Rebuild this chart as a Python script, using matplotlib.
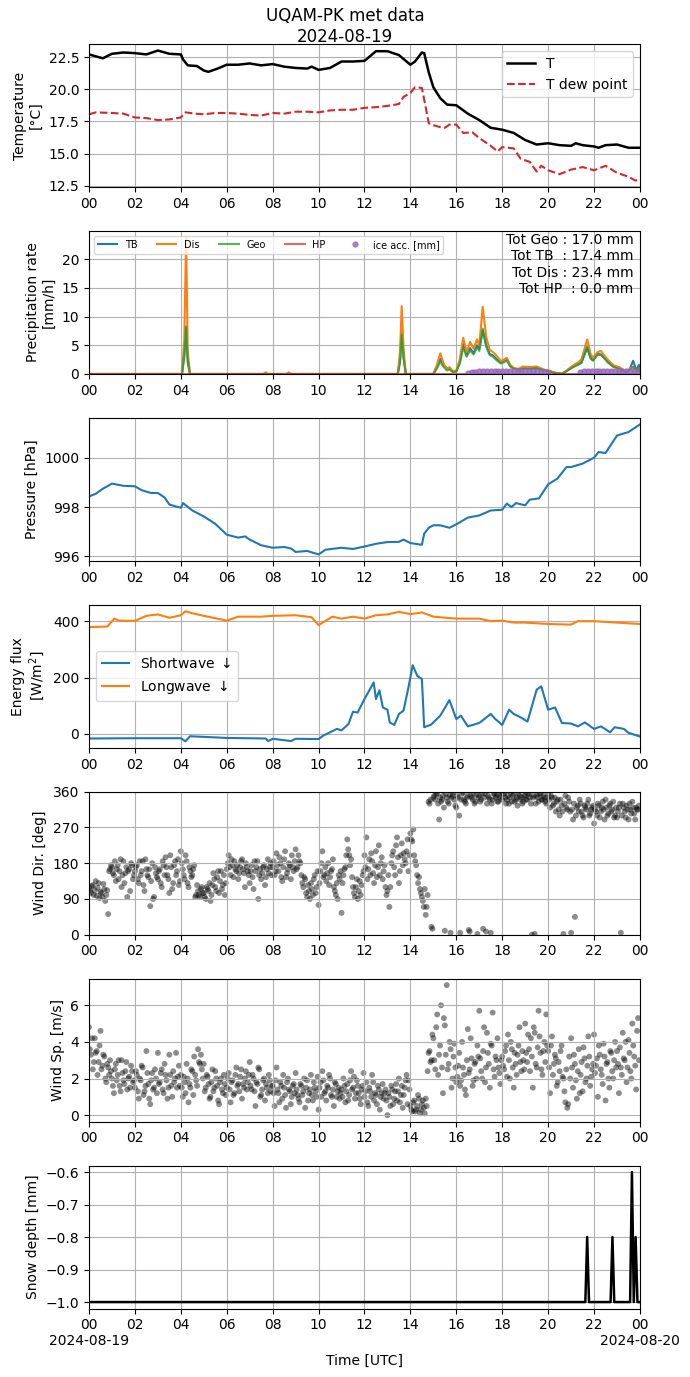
import numpy as np
import matplotlib
matplotlib.use('Agg')
import matplotlib.pyplot as plt

# ---------------- data (hours UTC on 2024-08-19) ----------------
T_hours = [0, 0.3, 0.6, 1.0, 1.5, 2.0, 2.5, 3.0, 3.5, 4.0, 4.1, 4.3, 4.7, 5.0, 5.2,
           5.6, 6.0, 6.5, 7.0, 7.5, 8.0, 8.5, 9.0, 9.5, 9.7, 10.0, 10.5, 11.0, 11.5, 12.0,
           12.5, 13.0, 13.5, 14.0, 14.2, 14.5, 14.6, 14.8, 15.0, 15.3, 15.6, 16.0, 16.5, 17.0, 17.5,
           18.0, 18.5, 19.0, 19.5, 20.0, 20.5, 21.0, 21.2, 21.5, 22.0, 22.2, 22.5, 23.0, 23.5, 24.0]
T_vals = [22.7, 22.55, 22.4, 22.75, 22.85, 22.8, 22.7, 23.0, 22.75, 22.7, 22.3, 21.85, 21.8, 21.45, 21.35,
          21.6, 21.9, 21.9, 22.0, 21.85, 21.95, 21.75, 21.65, 21.6, 21.75, 21.5, 21.65, 22.15, 22.15, 22.2,
          22.95, 22.95, 22.65, 21.9, 22.15, 22.85, 22.8, 21.3, 20.15, 19.3, 18.8, 18.75, 18.1, 17.6, 17.0,
          16.85, 16.6, 16.05, 15.7, 15.8, 15.65, 15.6, 15.8, 15.65, 15.55, 15.45, 15.65, 15.7, 15.45, 15.45]

Td_hours = [0, 0.3, 1.0, 1.5, 2.0, 2.5, 3.0, 3.5, 4.0, 4.2, 4.6, 5.0, 5.5, 6.0, 6.5,
            7.0, 7.5, 8.0, 8.5, 9.0, 9.5, 10.0, 10.5, 11.0, 11.5, 12.0, 12.5, 13.0, 13.5, 13.7,
            14.0, 14.2, 14.5, 14.6, 14.8, 15.0, 15.3, 15.5, 15.7, 16.0, 16.3, 16.7, 17.0, 17.5, 17.8,
            18.0, 18.5, 18.8, 19.2, 19.5, 19.7, 20.0, 20.5, 21.0, 21.5, 22.0, 22.5, 23.0, 23.5, 23.8, 24.0]
Td_vals = [18.05, 18.2, 18.15, 18.1, 17.8, 17.75, 17.6, 17.65, 17.8, 18.2, 18.1, 18.05, 18.15, 18.15, 18.1,
           18.0, 17.95, 18.15, 18.1, 18.25, 18.25, 18.2, 18.35, 18.4, 18.4, 18.55, 18.6, 18.7, 18.85, 19.4,
           19.7, 20.15, 20.1, 19.2, 17.35, 17.2, 17.05, 17.0, 17.25, 17.25, 16.6, 16.65, 16.2, 15.6, 15.15,
           15.5, 15.4, 14.6, 14.35, 13.6, 14.05, 13.7, 13.4, 13.75, 13.95, 13.7, 14.05, 13.5, 13.2, 12.9, 13.0]

pr_hours = [0, 4.05, 4.15, 4.23, 4.3, 4.4,
            7.6, 7.7, 7.8, 8.6, 8.7, 8.8,
            13.45, 13.55, 13.62, 13.7, 13.8,
            15.0, 15.15, 15.3, 15.45, 15.6, 15.7, 15.85, 16.0, 16.15, 16.3, 16.45, 16.6, 16.75, 16.9,
            17.0, 17.15, 17.3, 17.45, 17.6, 17.75, 17.95, 18.2, 18.35, 18.5, 18.7, 18.9, 19.2, 19.5,
            19.8, 20.1, 20.4, 20.6, 20.8, 21.05, 21.3, 21.45, 21.7, 21.85, 21.95, 22.15, 22.3, 22.45,
            22.6, 22.85, 23.1, 23.4, 23.55, 23.7, 23.85, 23.95, 24.0]
pr_tb = [0, 0, 3.0, 8.3, 2.0, 0,
         0, 0, 0, 0, 0, 0,
         0, 2.5, 8.0, 3.0, 0,
         0, 1.2, 2.6, 1.5, 1.0, 1.0, 0.4, 0.5, 2.0, 5.2, 3.2, 4.5, 3.6, 5.0,
         4.3, 7.6, 5.0, 3.5, 3.2, 2.6, 2.0, 2.6, 1.4, 1.0, 0.8, 1.0, 1.0, 1.0,
         0.7, 0.4, 0.1, 0.05, 0.5, 1.2, 1.7, 2.0, 4.5, 2.8, 2.4, 3.5, 3.4, 2.8,
         2.1, 1.3, 1.0, 0.3, 0.8, 2.3, 0.6, 1.6, 0.3]
pr_dis = [0, 0, 6.0, 23.7, 4.0, 0,
          0, 0.3, 0, 0, 0.3, 0,
          0, 4.0, 11.8, 4.5, 0,
          0, 1.5, 3.6, 1.8, 0.8, 1.2, 0.5, 0.6, 2.5, 6.3, 3.8, 5.6, 4.4, 6.0,
          5.0, 11.7, 6.5, 4.2, 3.8, 3.2, 2.2, 2.8, 1.6, 1.0, 0.9, 1.3, 1.2, 1.3,
          0.8, 0.5, 0.1, 0.05, 0.6, 1.4, 2.0, 2.5, 6.0, 3.5, 2.8, 3.8, 4.0, 3.2,
          2.5, 1.5, 1.2, 0.4, 0.9, 1.3, 0.5, 1.0, 0.2]
pr_geo = [0, 0, 3.5, 8.1, 2.5, 0,
          0, 0, 0, 0, 0, 0,
          0, 2.0, 6.8, 2.8, 0,
          0, 0.9, 2.1, 1.2, 0.6, 0.8, 0.3, 0.4, 1.8, 4.6, 3.0, 4.1, 3.4, 4.6,
          4.0, 7.9, 4.8, 3.3, 3.0, 2.4, 1.8, 2.3, 1.3, 0.9, 0.8, 0.9, 0.9, 1.0,
          0.7, 0.4, 0.1, 0.05, 0.5, 1.1, 1.6, 1.9, 4.8, 2.7, 2.3, 3.3, 3.3, 2.7,
          2.0, 1.2, 0.9, 0.3, 0.7, 1.2, 0.5, 1.0, 0.2]
pr_hp_hours = [0, 24]
pr_hp = [0, 0]

ice_hours = [16.5, 16.67, 16.83, 17.0, 17.17, 17.33, 17.5, 17.67, 17.83, 18.0, 18.17,
             18.33, 18.5, 18.67, 18.83, 19.0, 19.17, 19.33, 19.5, 19.67, 19.83, 20.0,
             21.4, 21.57, 21.73, 21.9, 22.07, 22.23, 22.4, 22.57, 22.73, 22.9, 23.07,
             23.23, 23.4, 23.57, 23.73, 23.85]
ice_vals = [0.2, 0.3, 0.4, 0.45, 0.5, 0.5, 0.5, 0.5, 0.55, 0.5, 0.5,
            0.5, 0.5, 0.5, 0.5, 0.5, 0.45, 0.45, 0.45, 0.4, 0.35, 0.3,
            0.3, 0.45, 0.5, 0.55, 0.55, 0.55, 0.6, 0.6, 0.6, 0.6, 0.6,
            0.55, 0.55, 0.55, 0.5, 0.4]
totals_text = "Tot Geo : 17.0 mm\nTot TB  : 17.4 mm\nTot Dis : 23.4 mm\nTot HP  : 0.0 mm"

P_hours = [0, 0.3, 0.6, 1.0, 1.5, 2.0, 2.3, 2.7, 3.0, 3.3, 3.5, 4.0, 4.1, 4.5, 5.0,
           5.5, 6.0, 6.5, 6.8, 7.0, 7.5, 8.0, 8.5, 8.8, 9.0, 9.5, 10.0, 10.3, 11.0, 11.5,
           12.0, 12.5, 13.0, 13.5, 13.7, 14.0, 14.5, 14.6, 14.8, 15.0, 15.3, 15.7, 16.0, 16.5, 17.0,
           17.5, 18.0, 18.2, 18.4, 18.6, 19.0, 19.2, 19.6, 20.0, 20.4, 20.8, 21.0, 21.5, 22.0, 22.2,
           22.5, 23.0, 23.5, 24.0]
P_vals = [998.43, 998.54, 998.74, 998.95, 998.86, 998.84, 998.68, 998.57, 998.57, 998.38, 998.1, 997.97,
          998.16, 997.86, 997.62, 997.32, 996.88, 996.76, 996.81, 996.68, 996.45, 996.35, 996.38, 996.32,
          996.18, 996.22, 996.08, 996.27, 996.35, 996.3, 996.4, 996.51, 996.58, 996.59, 996.68, 996.54,
          996.47, 996.92, 997.16, 997.26, 997.26, 997.16, 997.3, 997.57, 997.66, 997.86, 997.89, 998.14,
          998.0, 998.16, 998.07, 998.3, 998.35, 998.92, 999.15, 999.62, 999.62, 999.76, 1000.0, 1000.23,
          1000.19, 1000.9, 1001.04, 1001.35]

SW_hours = [0, 2.0, 4.0, 4.2, 4.4, 6.0, 7.7, 7.8, 8.0, 8.8, 9.0, 10.0, 10.2, 10.5, 10.8,
            11.0, 11.3, 11.5, 11.7, 12.0, 12.2, 12.4, 12.5, 12.65, 12.8, 13.0, 13.1, 13.3, 13.5, 13.7,
            13.9, 14.1, 14.3, 14.5, 14.6, 14.9, 15.3, 15.7, 16.0, 16.2, 16.5, 17.0, 17.5, 17.7, 18.0,
            18.3, 18.5, 18.8, 19.1, 19.5, 19.7, 20.0, 20.3, 20.6, 21.0, 21.3, 21.6, 22.0, 22.3, 22.7,
            22.9, 23.3, 23.5, 24.0]
SW_vals = [-16, -15, -15, -26, -8, -14, -16, -25, -17, -25, -17, -18, -6, 6, 18,
           13, 35, 79, 76, 124, 153, 183, 124, 155, 94, 86, 41, 32, 71, 83,
           159, 244, 206, 195, 24, 33, 65, 120, 53, 65, 27, 39, 71, 53, 32,
           86, 71, 59, 44, 157, 169, 86, 94, 39, 37, 27, 41, 18, 27, 6,
           24, 18, 4, -9]
LW_hours = [0, 0.8, 1.1, 1.3, 2.0, 2.5, 3.0, 3.5, 4.0, 4.2, 4.5, 5.0, 6.0, 6.5, 7.5,
            8.0, 9.0, 9.7, 10.0, 10.3, 10.6, 11.0, 11.5, 12.0, 12.5, 13.0, 13.5, 14.0, 14.5, 15.0,
            16.0, 17.0, 17.5, 18.0, 18.5, 19.0, 20.0, 21.0, 21.3, 22.0, 23.0, 24.0]
LW_vals = [379, 381, 409, 402, 401, 419, 424, 412, 421, 435, 428, 419, 402, 416, 416,
           419, 421, 414, 386, 401, 416, 409, 416, 409, 421, 424, 433, 425, 431, 416,
           409, 409, 400, 402, 395, 395, 390, 388, 400, 400, 395, 390]

# wind samples: set A at :00, :05, ... and set B at :02.5, :07.5, ... (one row per hour)
wdir_rows_a = [
    [118, 105, 125, 112, 98, 130, 108, 95, 115, 100, 52, 165],
    [170, 150, 135, 175, 160, 120, 185, 155, 95, 165, 180, 140],
    [160, 175, 130, 150, 185, 110, 165, 145, 72, 180, 95, 155],
    [140, 165, 120, 175, 195, 150, 105, 170, 130, 185, 160, 125],
    [210, 165, 140, 185, 120, 160, 150, 175, 100, 110, 95, 120],
    [105, 90, 115, 130, 100, 155, 120, 145, 105, 160, 125, 100],
    [165, 200, 150, 175, 185, 160, 140, 170, 190, 155, 180, 160],
    [130, 175, 115, 160, 185, 150, 140, 170, 125, 165, 155, 180],
    [170, 150, 205, 160, 180, 135, 190, 145, 165, 175, 200, 160],
    [215, 170, 185, 150, 120, 140, 95, 110, 130, 100, 150, 120],
    [75, 160, 210, 150, 135, 180, 145, 165, 120, 100, 90, 140],
    [55, 150, 170, 240, 200, 190, 120, 95, 140, 110, 100, 150],
    [200, 245, 165, 150, 185, 130, 210, 170, 150, 195, 160, 120],
    [110, 70, 180, 210, 150, 245, 130, 200, 175, 190, 210, 160],
    [255, 235, 200, 175, 130, 115, 95, 70, 50, 100, 330, 20],
    [345, 340, 355, 290, 335, 350, 10, 345, 330, 5, 350, 340],
    [320, 345, 5, 355, 340, 330, 350, 8, 345, 355, 335, 2],
    [350, 340, 15, 355, 330, 345, 5, 340, 355, 350, 335, 345],
    [340, 355, 330, 350, 345, 335, 355, 340, 325, 350, 345, 335],
    [350, 340, 355, 330, 345, 2, 350, 335, 355, 340, 345, 330],
    [355, 320, 345, 330, 310, 340, 300, 325, 2, 350, 315, 335],
    [5, 290, 45, 320, 310, 330, 300, 325, 315, 340, 305, 320],
    [280, 310, 330, 295, 320, 315, 340, 300, 325, 310, 335, 300],
    [295, 320, 5, 330, 310, 325, 290, 315, 335, 305, 320, 315],
]
wdir_rows_b = [
    [110, 122, 100, 135, 118, 92, 105, 128, 85, 112, 160, 175],
    [155, 185, 165, 140, 190, 150, 130, 170, 160, 110, 175, 150],
    [170, 140, 185, 160, 125, 190, 150, 165, 135, 90, 170, 145],
    [160, 130, 185, 150, 170, 140, 200, 115, 175, 150, 190, 135],
    [180, 150, 200, 130, 170, 145, 165, 95, 125, 100, 115, 105],
    [95, 120, 110, 85, 125, 140, 110, 160, 135, 115, 150, 130],
    [180, 170, 190, 145, 165, 175, 155, 185, 165, 120, 170, 150],
    [160, 145, 185, 170, 90, 165, 155, 175, 145, 190, 170, 150],
    [185, 160, 175, 195, 145, 170, 210, 155, 180, 140, 170, 185],
    [165, 200, 180, 130, 145, 105, 125, 90, 115, 140, 105, 160],
    [130, 180, 145, 170, 155, 125, 160, 190, 110, 130, 150, 160],
    [130, 165, 200, 215, 175, 145, 105, 120, 90, 135, 125, 160],
    [170, 140, 190, 205, 155, 175, 145, 225, 180, 140, 175, 100],
    [150, 120, 200, 170, 225, 195, 160, 230, 205, 180, 240, 200],
    [240, 265, 185, 150, 145, 105, 85, 115, 70, 335, 340, 15],
    [350, 355, 330, 345, 340, 320, 355, 335, 350, 345, 358, 325],
    [350, 300, 340, 358, 335, 345, 12, 350, 340, 330, 352, 345],
    [335, 355, 345, 8, 350, 340, 330, 355, 345, 335, 350, 358],
    [355, 345, 340, 330, 358, 350, 335, 345, 355, 340, 330, 350],
    [340, 355, 345, 0, 350, 330, 345, 355, 340, 350, 335, 345],
    [340, 350, 325, 345, 335, 315, 340, 310, 330, 320, 345, 310],
    [315, 330, 300, 325, 340, 310, 295, 320, 330, 300, 315, 325],
    [315, 300, 325, 310, 335, 290, 320, 305, 330, 315, 295, 320],
    [310, 330, 300, 320, 295, 315, 330, 305, 320, 290, 315, 325],
]
wspd_rows_a = [
    [4.8, 3.3, 2.5, 4.2, 3.5, 2.9, 4.6, 2.7, 3.2, 1.8, 2.6, 3.0],
    [2.0, 1.2, 2.8, 2.2, 1.6, 3.0, 1.9, 2.4, 1.4, 2.1, 2.7, 1.8],
    [1.5, 2.2, 0.9, 1.9, 2.6, 1.3, 3.5, 1.7, 0.6, 2.3, 1.5, 2.0],
    [3.4, 1.8, 2.5, 1.2, 2.2, 0.9, 3.3, 1.6, 2.4, 2.0, 1.5, 2.7],
    [2.2, 1.0, 1.8, 2.8, 0.7, 1.5, 2.4, 3.2, 1.9, 3.6, 2.8, 2.5],
    [2.8, 1.5, 2.1, 0.9, 1.8, 1.3, 2.4, 1.6, 0.6, 2.0, 1.2, 1.7],
    [1.5, 2.3, 0.7, 1.9, 1.2, 2.6, 1.7, 2.1, 0.9, 1.5, 2.4, 1.8],
    [2.9, 1.4, 2.0, 0.5, 1.7, 2.5, 1.1, 1.9, 0.8, 1.5, 2.2, 1.3],
    [1.6, 0.5, 2.6, 1.2, 1.8, 0.9, 1.5, 0.4, 2.0, 1.3, 1.0, 1.7],
    [2.3, 1.1, 0.7, 1.6, 1.3, 0.4, 1.9, 1.2, 2.2, 0.8, 1.5, 1.0],
    [0.3, 1.8, 2.4, 1.2, 0.8, 1.5, 2.0, 1.0, 0.5, 1.7, 1.3, 0.9],
    [1.4, 2.0, 0.7, 1.7, 1.1, 2.4, 1.5, 0.9, 1.9, 1.2, 0.6, 1.6],
    [1.0, 1.8, 0.5, 1.3, 2.2, 0.8, 1.1, 1.6, 0.3, 1.2, 0.9, 1.4],
    [0.0, 1.0, 1.6, 0.6, 1.3, 0.8, 2.0, 1.1, 0.4, 1.5, 2.2, 1.9],
    [0.5, 0.2, 0.8, 0.3, 1.1, 0.1, 0.6, 0.4, 0.9, 2.4, 3.5, 3.0],
    [4.2, 2.5, 5.5, 3.3, 6.0, 1.2, 4.9, 7.1, 2.8, 3.6, 2.0, 3.9],
    [1.8, 2.7, 1.6, 4.0, 2.2, 1.1, 4.7, 2.5, 3.1, 1.9, 2.9, 3.8],
    [5.7, 2.4, 3.5, 1.8, 4.5, 2.8, 3.9, 5.6, 2.1, 3.0, 2.6, 1.7],
    [3.2, 2.5, 3.8, 4.4, 2.0, 3.6, 1.5, 2.8, 3.3, 4.8, 2.4, 3.0],
    [5.0, 2.9, 3.6, 4.2, 1.5, 4.5, 2.6, 5.7, 3.4, 2.2, 4.0, 5.5],
    [3.5, 1.2, 4.3, 2.8, 3.1, 1.8, 2.4, 3.8, 2.0, 0.7, 0.4, 3.2],
    [4.2, 1.5, 2.8, 0.9, 3.6, 2.2, 1.3, 3.1, 2.0, 4.3, 1.6, 2.5],
    [4.4, 2.7, 1.0, 3.3, 2.2, 3.9, 0.8, 2.9, 1.5, 3.4, 2.0, 4.0],
    [3.5, 1.2, 2.6, 4.5, 3.0, 1.8, 4.1, 2.4, 5.0, 3.2, 1.4, 5.3],
]
wspd_rows_b = [
    [3.6, 4.2, 2.9, 3.4, 2.2, 3.8, 2.5, 3.3, 2.0, 2.8, 2.2, 2.4],
    [1.6, 2.5, 1.9, 3.0, 1.3, 2.3, 1.7, 2.9, 2.0, 1.5, 2.4, 1.9],
    [2.4, 1.3, 2.0, 2.7, 1.1, 1.6, 2.3, 0.9, 1.9, 1.4, 2.5, 1.2],
    [1.7, 2.3, 1.4, 2.8, 1.9, 1.5, 2.2, 1.0, 1.8, 3.4, 2.1, 1.6],
    [1.5, 2.1, 1.2, 2.0, 1.7, 2.5, 1.1, 2.2, 1.6, 2.9, 3.3, 2.0],
    [1.3, 2.2, 1.7, 1.0, 2.5, 1.5, 2.0, 0.8, 1.8, 1.4, 2.2, 1.1],
    [2.0, 1.4, 1.8, 1.1, 2.2, 1.6, 1.3, 2.5, 1.7, 2.0, 1.4, 2.2],
    [1.6, 2.2, 1.3, 1.8, 2.6, 1.0, 1.4, 2.0, 1.7, 1.2, 1.9, 1.6],
    [1.2, 1.9, 1.4, 0.7, 1.6, 2.2, 1.1, 1.8, 1.4, 0.6, 1.6, 1.2],
    [1.4, 0.9, 1.7, 1.1, 2.0, 1.5, 0.8, 1.4, 1.1, 1.8, 1.3, 2.1],
    [1.5, 1.0, 1.9, 1.3, 1.6, 2.2, 1.1, 1.4, 1.8, 1.0, 1.5, 1.2],
    [1.0, 1.6, 1.3, 0.8, 1.9, 1.4, 2.1, 1.2, 1.6, 0.9, 1.4, 2.3],
    [1.3, 0.7, 1.5, 1.0, 1.8, 1.2, 0.6, 1.4, 1.0, 1.7, 1.2, 0.8],
    [1.2, 0.5, 1.4, 0.9, 1.7, 1.3, 0.7, 1.6, 1.1, 1.9, 0.6, 1.4],
    [0.3, 0.7, 0.2, 0.5, 0.9, 0.3, 0.8, 0.1, 0.5, 3.4, 2.9, 4.4],
    [3.0, 4.8, 2.2, 3.8, 2.6, 5.3, 3.3, 2.5, 4.0, 1.5, 3.2, 2.6],
    [2.1, 3.4, 1.9, 2.6, 1.4, 3.0, 2.3, 4.2, 1.6, 2.8, 2.0, 3.2],
    [3.1, 2.0, 4.8, 2.6, 3.4, 1.5, 3.8, 2.5, 3.2, 4.2, 2.3, 3.0],
    [2.7, 3.5, 2.1, 3.0, 4.0, 2.6, 3.4, 2.2, 3.8, 2.9, 3.5, 2.5],
    [3.4, 4.4, 2.4, 3.2, 4.8, 2.8, 3.7, 4.3, 2.5, 3.5, 2.9, 3.8],
    [2.6, 3.8, 2.2, 3.3, 1.6, 2.9, 3.5, 2.1, 1.3, 2.5, 0.6, 2.0],
    [2.6, 3.3, 1.9, 2.4, 1.2, 2.9, 3.7, 1.8, 2.7, 3.2, 2.1, 2.8],
    [2.3, 3.1, 3.8, 2.5, 1.7, 3.2, 2.8, 2.0, 3.5, 2.4, 3.0, 2.6],
    [2.8, 3.7, 2.2, 3.1, 4.0, 2.6, 3.4, 2.0, 3.8, 2.7, 4.6, 3.0],
]

snow_hours = [0, 21.62, 21.7, 21.78, 22.72, 22.8, 22.88, 23.57, 23.65, 23.73, 23.81, 23.89, 24.0]
snow_vals = [-1.0, -1.0, -0.8, -1.0, -1.0, -0.8, -1.0, -1.0, -0.6, -1.0, -0.8, -1.0, -1.0]

tick_hours = list(range(0, 25, 2))
tick_labels = ['00', '02', '04', '06', '08', '10', '12', '14', '16', '18', '20', '22', '00']
date_labels = {0: '2024-08-19', 24: '2024-08-20'}

# ---------------- figure ----------------
wdir_a = np.array(wdir_rows_a, dtype=float).ravel()
wdir_b = np.array(wdir_rows_b, dtype=float).ravel()
wspd_a = np.array(wspd_rows_a, dtype=float).ravel()
wspd_b = np.array(wspd_rows_b, dtype=float).ravel()
hours_a = np.arange(wdir_a.size) / 12.0
hours_b = hours_a + 2.5 / 60.0

fig, axes = plt.subplots(7, 1, figsize=(6.9, 13.77), dpi=100)
fig.subplots_adjust(left=0.129, right=0.9275, top=0.968, bottom=0.0497, hspace=0.307)
fig.suptitle('UQAM-PK met data\n2024-08-19', y=0.995, fontsize=12)

ax = axes[0]
ax.plot(T_hours, T_vals, color='black', lw=1.8, label='T')
ax.plot(Td_hours, Td_vals, color='#d62728', lw=1.5, ls='--', label='T dew point')
ax.set_ylabel('Temperature\n[°C]')
ax.legend(loc='upper right')

ax = axes[1]
ax.plot(pr_hours, pr_tb, color='C0', lw=1.5, label='TB')
ax.plot(pr_hours, pr_dis, color='C1', lw=1.5, label='Dis')
ax.plot(pr_hours, pr_geo, color='C2', lw=1.5, alpha=0.8, label='Geo')
ax.plot(pr_hp_hours, pr_hp, color='C3', lw=1.5, alpha=0.7, label='HP')
ax.plot(ice_hours, ice_vals, 'o', color='C4', ms=3.5, alpha=0.8, label='ice acc. [mm]')
ax.set_ylim(bottom=0)
ax.set_ylabel('Precipitation rate\n[mm/h]')
ax.legend(loc='upper left', ncol=5, fontsize=7)
ax.text(0.988, 0.985, totals_text, transform=ax.transAxes, ha='right', va='top', fontsize=10)

ax = axes[2]
ax.plot(P_hours, P_vals, color='C0', lw=1.5)
ax.set_ylabel('Pressure [hPa]')

ax = axes[3]
ax.plot(SW_hours, SW_vals, color='C0', lw=1.5, label='Shortwave $\\downarrow$')
ax.plot(LW_hours, LW_vals, color='C1', lw=1.5, label='Longwave $\\downarrow$')
ax.set_ylabel('Energy flux\n[W/m$^2$]')
ax.legend(loc='center left')

ax = axes[4]
ax.scatter(hours_a, wdir_a, s=18, color='black', alpha=0.45, edgecolors='none')
ax.scatter(hours_b, wdir_b, s=18, color='black', alpha=0.45, edgecolors='none')
ax.set_ylim(0, 360)
ax.set_yticks([0, 90, 180, 270, 360])
ax.set_ylabel('Wind Dir. [deg]')

ax = axes[5]
ax.scatter(hours_a, wspd_a, s=18, color='black', alpha=0.45, edgecolors='none')
ax.scatter(hours_b, wspd_b, s=18, color='black', alpha=0.45, edgecolors='none')
ax.set_ylabel('Wind Sp. [m/s]')

ax = axes[6]
ax.plot(snow_hours, snow_vals, color='black', lw=1.8)
ax.set_ylabel('Snow depth [mm]')
ax.set_xlabel('Time [UTC]', labelpad=15.5)
for xh, lab in date_labels.items():
    ax.annotate(lab, xy=(xh, 0), xycoords=('data', 'axes fraction'),
                xytext=(0, -18.5), textcoords='offset points', ha='center', va='top')

for ax in axes:
    ax.set_xlim(0, 24)
    ax.set_xticks(tick_hours)
    ax.set_xticklabels(tick_labels)
    ax.grid(True)

fig.savefig('out.png', dpi=100)
